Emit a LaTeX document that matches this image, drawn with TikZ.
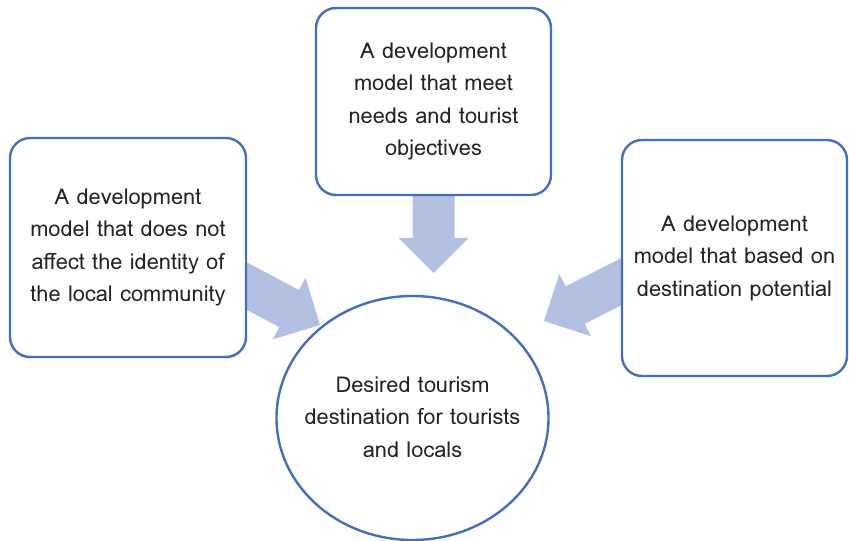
\documentclass[tikz,border=0pt]{standalone}
\usepackage{fontspec}
\setmainfont{Loma}
\definecolor{edgeblue}{RGB}{68,110,190}
\definecolor{arrowfill}{RGB}{180,192,226}
\definecolor{txt}{RGB}{35,35,35}
\newcommand\blockarrow[3]{%
  \begin{scope}[shift={(#1)},rotate=#2]
    \fill[arrowfill] (0,0) -- (-35,35) -- (-35,21) -- (-#3,21) -- (-#3,-21) -- (-35,-21) -- (-35,-35) -- cycle;
  \end{scope}}
\begin{document}
\begin{tikzpicture}[x=1pt,y=1pt,
  txtfont/.style={text=txt,font=\fontsize{21.8}{32.5}\selectfont},
  box/.style={draw=edgeblue,line width=2.4pt,fill=white,rounded corners=20pt,inner sep=0pt,
    align=center,txtfont}]
\useasboundingbox (0,0) rectangle (849,541);
% arrows (drawn first, boxes cover their tails)
\coordinate (tipL) at (320,216);
\coordinate (tipT) at (433.5,268);
\coordinate (tipR) at (544,220);
\blockarrow{tipL}{-28}{120}
\blockarrow{tipT}{-90}{100}
\blockarrow{tipR}{207}{120}
% boxes
\node[box,minimum width=236pt,minimum height=219pt] (left) at (128,293.5)
  {A development\\model that does not\\affect the identity of\\the local community};
\node[box,minimum width=235pt,minimum height=187pt] (top) at (433.5,439.5)
  {A development\\model that meet\\needs and tourist\\objectives};
\node[box,minimum width=225pt,minimum height=236pt] (right) at (734.5,283)
  {A development\\model that based on\\destination potential};
\draw[edgeblue,line width=2.4pt,fill=white] (412.5,123) ellipse [x radius=136, y radius=122];
\node[align=center,txtfont] (goal) at (412.5,124)
  {Desired tourism\\destination for tourists\\and locals};
\end{tikzpicture}
\end{document}
